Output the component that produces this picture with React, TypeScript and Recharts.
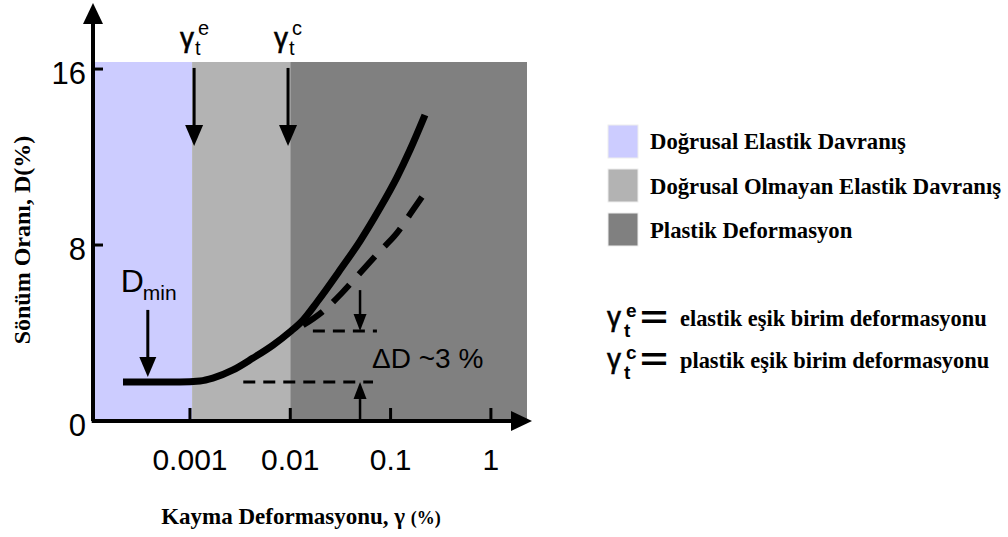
import React from 'react';
import { ComposedChart, Line, XAxis, YAxis, ReferenceArea, ReferenceLine } from 'recharts';

const SANS = '"Liberation Sans", Arial, sans-serif';
const SERIF = '"Liberation Serif", "Times New Roman", serif';

// axis ranges (shear strain is on a log scale)
const X_MIN = 1.08e-4;
const X_MAX = 2.29;
const Y_MAX = 16.32;
const xTicks = [0.001, 0.01, 0.1, 1];
const yTicks = [0, 8, 16];

// behaviour regions
const regionEdges = [X_MIN, 0.00105, 0.01, X_MAX];
const regionColors = ['#ccccff', '#b3b3b3', '#808080'];
const regionNames = ['Doğrusal Elastik Davranış', 'Doğrusal Olmayan Elastik Davranış', 'Plastik Deformasyon'];

// damping curve
const solidStrain = [2.15e-4, 7.94e-4, 0.00126, 0.00169, 0.00269, 0.00425, 0.00673, 0.00993, 0.0134, 0.0185, 0.0313, 0.0496, 0.0784, 0.116, 0.156, 0.22];
const solidDamping = [1.77, 1.77, 1.82, 1.95, 2.32, 2.86, 3.45, 4.05, 4.59, 5.41, 6.86, 8.18, 9.68, 11.09, 12.32, 13.91];
const dashedStrain = [0.0134, 0.0207, 0.0327, 0.0496, 0.0751, 0.116, 0.167, 0.237];
const dashedDamping = [4.35, 4.95, 5.82, 6.73, 7.64, 8.55, 9.59, 10.59];

// annotation anchors (data coordinates)
const gammaE = 0.0011;
const gammaC = 0.0095;
const arrowTopD = 16.05;
const arrowTipD = 12.5;
const dminX = 3.8e-4;
const deltaX = 0.0496;
const lowerLevel = 1.77;
const upperLevel = 4.09;

const solidData = solidStrain.map((x, i) => ({ x, d: solidDamping[i] }));
const dashedData = dashedStrain.map((x, i) => ({ x, d: dashedDamping[i] }));

const arrow = (headW: number, headL: number, width: number, extra?: (p: any) => React.ReactNode) => (props: any) => {
  const { x1, y1, x2, y2 } = props;
  const dx = x2 - x1;
  const dy = y2 - y1;
  const L = Math.hypot(dx, dy) || 1;
  const ux = dx / L;
  const uy = dy / L;
  const bx = x2 - ux * headL;
  const by = y2 - uy * headL;
  const px = -uy * headW / 2;
  const py = ux * headW / 2;
  return (
    <g>
      <line x1={x1} y1={y1} x2={bx} y2={by} stroke="#000" strokeWidth={width} />
      <polygon points={`${x2},${y2} ${bx + px},${by + py} ${bx - px},${by - py}`} fill="#000" />
      {extra ? extra(props) : null}
    </g>
  );
};

const gammaLabel = (sup: string) => (p: any) => (
  <g fontFamily={SANS} fill="#000">
    <text x={p.x1 - 14} y={p.y1 - 21} fontSize={28} stroke="#000" strokeWidth={0.6}>γ</text>
    <text x={p.x1 + 4} y={p.y1 - 33} fontSize={20}>{sup}</text>
    <text x={p.x1 + 1} y={p.y1 - 13} fontSize={20}>t</text>
  </g>
);

const dminLabel = (p: any) => (
  <g fontFamily={SANS} fill="#000">
    <text x={p.x1 - 27} y={p.y1 - 18} fontSize={32}>D</text>
    <text x={p.x1 - 5} y={p.y1 - 10} fontSize={21}>min</text>
  </g>
);

const deltaLabel = (p: any) => (
  <text x={p.x2 + 12} y={p.y2 + 37} fontSize={28} fontFamily={SANS} fill="#000">ΔD ~3 %</text>
);

const XTick = (props: any) => {
  const { x, y, payload } = props;
  return (
    <g>
      <line x1={x} y1={y} x2={x} y2={y - 13} stroke="#000" strokeWidth={3} />
      <text x={x} y={y + 49} textAnchor="middle" fontSize={30} fontFamily={SANS} fill="#000">{String(payload.value)}</text>
    </g>
  );
};

const YTick = (props: any) => {
  const { x, y, payload } = props;
  return (
    <g>
      {payload.value !== 0 && <line x1={x} y1={y} x2={x + 10} y2={y} stroke="#000" strokeWidth={3} />}
      <text x={x - 7} y={y + 15} textAnchor="end" fontSize={31} fontFamily={SANS} fill="#000">{String(payload.value)}</text>
    </g>
  );
};

const App: React.FC = () => {
  return (
    <div style={{ position: 'absolute', left: 0, top: 0, width: 1008, height: 537, background: '#fff' }}>
      <ComposedChart width={1008} height={537} margin={{ top: 62, right: 481, left: 33, bottom: 66 }}>
        {regionColors.map((c, i) => (
          <ReferenceArea key={c} x1={regionEdges[i]} x2={regionEdges[i + 1]} y1={0} y2={Y_MAX}
            fill={c} fillOpacity={1} stroke="none" ifOverflow="visible" />
        ))}
        <XAxis dataKey="x" type="number" scale="log" domain={[X_MIN, X_MAX]} allowDataOverflow
          ticks={xTicks} interval={0} height={50} axisLine={false} tickLine={false}
          tickSize={0} tickMargin={0} tick={<XTick />} />
        <YAxis type="number" domain={[0, Y_MAX]} allowDataOverflow ticks={yTicks} width={60}
          axisLine={false} tickLine={false} tickSize={0} tickMargin={0} tick={<YTick />} />

        <Line data={dashedData} dataKey="d" stroke="#000" strokeWidth={6} strokeDasharray="24 14"
          type="monotone" dot={false} activeDot={false} isAnimationActive={false} />
        <Line data={solidData} dataKey="d" stroke="#000" strokeWidth={7}
          type="monotone" dot={false} activeDot={false} isAnimationActive={false} />

        <ReferenceLine segment={[{ x: 0.0034, y: lowerLevel }, { x: 0.0668, y: lowerLevel }]}
          stroke="#000" strokeWidth={3} strokeDasharray="12 8" ifOverflow="visible" />
        <ReferenceLine segment={[{ x: 0.0168, y: upperLevel }, { x: 0.0731, y: upperLevel }]}
          stroke="#000" strokeWidth={3} strokeDasharray="12 8" ifOverflow="visible" />

        <ReferenceLine segment={[{ x: deltaX, y: 5.95 }, { x: deltaX, y: upperLevel }]}
          ifOverflow="visible" shape={arrow(13, 17, 2.5, deltaLabel)} />
        <ReferenceLine segment={[{ x: deltaX, y: 0 }, { x: deltaX, y: lowerLevel }]}
          ifOverflow="visible" shape={arrow(13, 17, 2.5)} />

        <ReferenceLine segment={[{ x: gammaE, y: arrowTopD }, { x: gammaE, y: arrowTipD }]}
          ifOverflow="visible" shape={arrow(18, 21, 3, gammaLabel('e'))} />
        <ReferenceLine segment={[{ x: gammaC, y: arrowTopD }, { x: gammaC, y: arrowTipD }]}
          ifOverflow="visible" shape={arrow(18, 21, 3, gammaLabel('c'))} />
        <ReferenceLine segment={[{ x: dminX, y: 5.05 }, { x: dminX, y: 2.0 }]}
          ifOverflow="visible" shape={arrow(17, 20, 3, dminLabel)} />

        <ReferenceLine segment={[{ x: X_MIN, y: 0 }, { x: X_MIN, y: 19.0 }]}
          ifOverflow="visible" shape={arrow(20, 21, 4)} />
        <ReferenceLine segment={[{ x: X_MIN * 0.97, y: 0 }, { x: 2.57, y: 0 }]}
          ifOverflow="visible" shape={arrow(20, 21, 4)} />
      </ComposedChart>

      <svg width={1008} height={537} style={{ position: 'absolute', left: 0, top: 0, pointerEvents: 'none' }}>
        <text x={301} y={524} textAnchor="middle" fontFamily={SERIF} fontWeight="bold" fontSize={23} fill="#000">
          Kayma Deformasyonu, γ <tspan fontSize={18}>(%)</tspan>
        </text>
        <text transform="translate(30,240) rotate(-90)" textAnchor="middle" fontFamily={SERIF}
          fontWeight="bold" fontSize={24} fill="#000">Sönüm Oranı, D(%)</text>

        {regionNames.map((name, i) => (
          <g key={name}>
            <rect x={608} y={125 + i * 44} width={30} height={33} fill={regionColors[i]} stroke="#eee" />
            <text x={650} y={149 + i * 44.5} fontFamily={SERIF} fontWeight="bold" fontSize={22.7} fill="#000">{name}</text>
          </g>
        ))}

        {[['e', 'elastik eşik birim deformasyonu'], ['c', 'plastik eşik birim deformasyonu']].map(([s, t], i) => (
          <g key={s} fill="#000">
            <text x={607} y={326 + i * 42} fontFamily={SANS} fontSize={28} stroke="#000" strokeWidth={0.6}>γ</text>
            <text x={626} y={317 + i * 42} fontFamily={SANS} fontSize={19} fontWeight="bold">{s}</text>
            <text x={624} y={337 + i * 42} fontFamily={SANS} fontSize={19} fontWeight="bold">t</text>
            <text x={640} y={328 + i * 42} fontFamily={SANS} fontSize={32} fontWeight="bold" textLength={28} lengthAdjust="spacingAndGlyphs">=</text>
            <text x={680} y={326 + i * 42} fontFamily={SERIF} fontWeight="bold" fontSize={22.4}>{t}</text>
          </g>
        ))}
      </svg>
    </div>
  );
};

export default App;
